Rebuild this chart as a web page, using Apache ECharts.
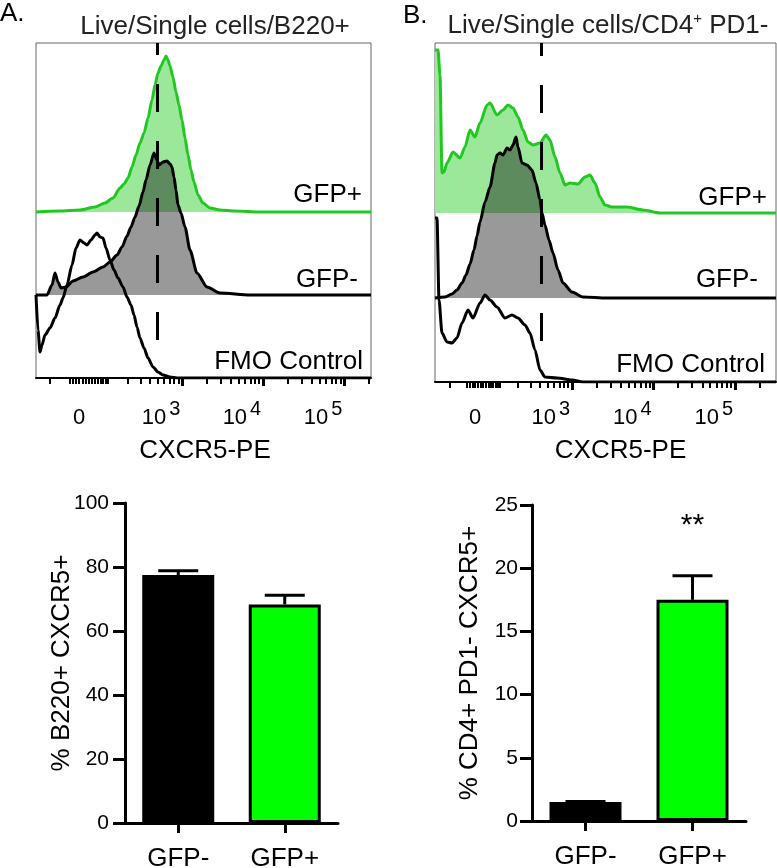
<!DOCTYPE html>
<html><head><meta charset="utf-8">
<script src="https://cdn.jsdelivr.net/npm/echarts@6/dist/echarts.min.js"></script>
<style>html,body{margin:0;padding:0;background:#fff}#c{width:777px;height:868px}</style>
</head><body><div id="c"></div>
<script>
// ================= DATA =================
// Flow histograms: [channel, relative events] per lane (channel = display position on the biexponential CXCR5-PE scale)
const histA_gfpPos = [[0,0],[24,1],[44,2],[59,5],[69,9],[77,14],[84,24],[88,28],[92,34],[96,45],[100,57],[104,69],[108,79],[112,94],[116,112],[119,127],[122,139],[125,146],[128,152],[130,156],[132,152],[134,146],[137,135],[140,120],[143,107],[146,92],[149,74],[152,57],[155,42],[158,30],[162,17],[167,9],[174,4],[184,2],[199,1],[224,0],[335,0]];
const histA_gfpNeg = [[0,0],[11,0],[16,10],[19,22],[22,13],[25,7],[30,8],[37,14],[47,18],[57,23],[67,28],[74,33],[81,40],[86,48],[91,59],[95,68],[99,78],[103,89],[107,103],[110,115],[114,130],[118,142],[121,135],[123,130],[127,133],[131,134],[134,131],[136,128],[138,118],[140,105],[142,90],[145,82],[149,68],[154,45],[161,22],[171,8],[184,2],[214,0],[335,0]];
const histA_fmo = [[0,83],[2,48],[4,26],[6,33],[9,43],[14,50],[19,60],[24,73],[27,80],[31,93],[36,113],[40,130],[44,138],[48,135],[51,133],[55,138],[59,143],[61,145],[64,141],[67,140],[70,130],[74,118],[78,108],[82,100],[87,91],[91,81],[95,73],[98,63],[101,51],[104,40],[108,30],[112,20],[117,11],[122,6],[127,3],[134,1],[141,0],[335,0]];

const histB_gfpPos = [[0,163],[3,163],[5,138],[7,40],[9,41],[12,50],[18,61],[25,55],[30,66],[35,83],[40,76],[45,90],[52,108],[55,110],[62,98],[68,103],[73,108],[78,105],[83,96],[88,83],[93,71],[98,68],[105,70],[111,78],[115,73],[120,56],[125,40],[130,28],[135,30],[143,29],[150,36],[155,38],[160,30],[165,16],[170,8],[177,6],[192,6],[208,3],[225,0],[341,0]];
const histB_gfpNeg = [[0,0],[10,1],[17,4],[22,8],[27,15],[31,23],[35,34],[39,48],[42,62],[45,76],[50,96],[55,111],[60,135],[62,143],[65,145],[68,143],[72,150],[75,148],[78,153],[81,161],[83,151],[87,135],[92,133],[97,128],[101,115],[105,98],[107,85],[110,73],[114,58],[118,45],[123,28],[128,15],[137,6],[148,1],[172,0],[341,0]];
const histB_fmo = [[0,164],[2,164],[4,82],[7,49],[12,40],[17,39],[22,44],[27,59],[33,72],[38,64],[45,79],[50,87],[55,82],[62,75],[70,64],[77,67],[83,64],[90,57],[95,49],[100,32],[105,12],[110,5],[122,4],[137,2],[148,0],[341,0]];

const laneLabels = ['GFP+', 'GFP-', 'FMO Control'];
const gateA = 121;   // gate channel, panel A
const gateB = 106;   // gate channel, panel B

// CXCR5-PE axis (fluorescence values)
const histTickValues = [0, 1000, 10000, 100000];
const histTickLabels = ['0', '10^3', '10^4', '10^5'];
const histMajorTicks = [1000, 10000, 100000];
const histMinorTicks = [-100,-30,-20,-10,0,10,20,30,40,50,60,70,80,90,100,200,300,400,500,600,700,800,900,2000,3000,4000,5000,6000,7000,8000,9000,20000,30000,40000,50000,60000,70000,80000,90000,200000];

// Bar charts
const barCategories = ['GFP-', 'GFP+'];
const barA_values = [77.5, 68.3];
const barA_errors = [1.3, 2.9];
const barB_values = [1.5, 17.5];
const barB_errors = [0.05, 1.9];
const barB_sig = ['', '**'];

// ================= CHART =================
const FONT = "'Liberation Sans', Arial, Helvetica, sans-serif";
const GREEN_LINE = '#22c722', GREEN_FILL = '#9be89b', GRAY_FILL = 'rgba(0,0,0,0.40)';
const BAR_COLORS = ['#000000', '#00ff00'];

function biex(zero, k, c) { return v => zero + k * Math.asinh(v / c); }
const tA = biex(43, 35.2, 107.6);
const tB = biex(40, 35.4, 130);

const chart = echarts.init(document.getElementById('c'));

const grids = [
  {left: 36, top: 43, width: 335, height: 335, show: true, borderColor: '#666', borderWidth: 1, containLabel: false, outerBoundsMode: 'none'},
  {left: 435, top: 43, width: 341, height: 339, show: true, borderColor: '#666', borderWidth: 1, containLabel: false, outerBoundsMode: 'none'},
  {left: 125, top: 503, width: 213, height: 320, containLabel: false, outerBoundsMode: 'none'},
  {left: 532, top: 505, width: 214, height: 316, containLabel: false, outerBoundsMode: 'none'}
];

function labelFormatter(t) {
  const pos = histTickValues.map(t);
  return function (v) {
    let best = 0;
    pos.forEach((p, i) => { if (Math.abs(p - v) < Math.abs(pos[best] - v)) best = i; });
    const s = histTickLabels[best];
    if (s.indexOf('^') >= 0) {
      const [b, e] = s.split('^');
      return '{b|' + b + '}{s|' + e + '}';
    }
    return '{b|' + s + '}';
  };
}

function histAxes(gridIndex, width, t, margin, nameGap, namePad) {
  return [
    {
      type: 'value', gridIndex, min: 0, max: width, position: 'bottom',
      axisLine: {show: true, onZero: false, lineStyle: {color: '#000', width: 2}},
      splitLine: {show: false},
      axisTick: {show: true, customValues: histMinorTicks.map(t), length: 6, lineStyle: {color: '#000', width: 2}},
      axisLabel: {
        show: true, customValues: histTickValues.map(t), margin,
        formatter: labelFormatter(t),
        rich: {
          b: {fontSize: 22, fontFamily: FONT, color: '#000', lineHeight: 36},
          s: {fontSize: 20, fontFamily: FONT, color: '#000', lineHeight: 18, verticalAlign: 'top', padding: [0, 42, 0, 3]}
        }
      },
      name: 'CXCR5-PE', nameLocation: 'middle', nameGap, nameMoveOverlap: false,
      nameTextStyle: {fontSize: 26, fontFamily: FONT, color: '#000', padding: namePad}
    },
    {
      type: 'value', gridIndex, min: 0, max: width, position: 'bottom',
      axisLine: {show: false}, splitLine: {show: false}, axisLabel: {show: false},
      axisTick: {show: true, customValues: histMajorTicks.map(t), length: 8, lineStyle: {color: '#000', width: 3}}
    }
  ];
}

function histSeries(xi, yi, lanes, bases, gate, gateLo, gateHi) {
  const shift = (arr, b) => arr.map(p => [p[0], p[1] + b]);
  const common = {type: 'line', xAxisIndex: xi, yAxisIndex: yi, showSymbol: false, smooth: 0.25, smoothMonotone: 'x', silent: true};
  return [
    Object.assign({}, common, {
      name: laneLabels[0], data: shift(lanes[0], bases[0]), z: 2,
      lineStyle: {color: GREEN_LINE, width: 3},
      areaStyle: {color: GREEN_FILL, opacity: 1, origin: bases[0]}
    }),
    Object.assign({}, common, {
      name: laneLabels[1], data: shift(lanes[1], bases[1]), z: 3,
      lineStyle: {color: '#000', width: 3},
      areaStyle: {color: GRAY_FILL, opacity: 1, origin: bases[1]}
    }),
    Object.assign({}, common, {
      name: laneLabels[2], data: shift(lanes[2], bases[2]), z: 4,
      lineStyle: {color: '#000', width: 3},
      markLine: {
        silent: true, symbol: 'none', animation: false,
        lineStyle: {color: '#000', width: 3, type: [28, 29]},
        label: {show: false},
        data: [[{coord: [gate, gateLo]}, {coord: [gate, gateHi]}]]
      }
    })
  ];
}

function barYAxis(gridIndex, max, interval, nameText, nameGap, margin) {
  return {
    type: 'value', gridIndex, min: 0, max, interval,
    axisLine: {show: true, lineStyle: {color: '#000', width: 3}},
    axisTick: {show: true, length: 12, lineStyle: {color: '#000', width: 3}},
    splitLine: {show: false},
    axisLabel: {fontSize: 21, fontFamily: FONT, color: '#000', margin},
    name: nameText, nameLocation: 'middle', nameGap, nameRotate: 90, nameMoveOverlap: false,
    nameTextStyle: {fontSize: 26, fontFamily: FONT, color: '#000'}
  };
}
function barXAxis(gridIndex) {
  return {
    type: 'category', gridIndex, data: barCategories,
    axisLine: {show: true, lineStyle: {color: '#000', width: 3}},
    axisTick: {show: true, alignWithLabel: true, length: 10, lineStyle: {color: '#000', width: 3}},
    axisLabel: {fontSize: 26, fontFamily: FONT, color: '#000', margin: 23}
  };
}
function barSeries(xi, yi, values) {
  return {
    type: 'bar', xAxisIndex: xi, yAxisIndex: yi, barWidth: 72, z: 3, silent: true,
    itemStyle: {borderColor: '#000', borderWidth: 3},
    data: values.map((v, i) => ({value: v, itemStyle: {color: BAR_COLORS[i]}}))
  };
}
function errSeries(xi, yi, values, errors, sig) {
  return {
    type: 'custom', xAxisIndex: xi, yAxisIndex: yi, z: 2, silent: true,
    data: values.map((v, i) => [i, v, errors[i]]),
    renderItem: function (params, api) {
      const i = api.value(0), v = api.value(1), e = api.value(2);
      const b = api.coord([i, v]), t = api.coord([i, v + e]);
      const hw = 20;
      const children = [
        {type: 'line', shape: {x1: b[0], y1: b[1], x2: t[0], y2: t[1]}, style: {stroke: '#000', lineWidth: 3}},
        {type: 'line', shape: {x1: t[0] - hw, y1: t[1], x2: t[0] + hw, y2: t[1]}, style: {stroke: '#000', lineWidth: 3}}
      ];
      if (sig && sig[params.dataIndex]) {
        children.push({type: 'text', x: t[0], y: t[1] - 50, style: {text: sig[params.dataIndex], align: 'center', verticalAlign: 'middle', fontSize: 30, fontFamily: FONT, fill: '#000'}});
      }
      return {type: 'group', children};
    }
  };
}

function txt(text, x, y, align, size, fill) {
  return {type: 'text', x, y, z: 100, silent: true,
    style: {text, align, verticalAlign: 'middle', fontSize: size, fontFamily: FONT, fill: fill || '#000'}};
}

const option = {
  animation: false,
  backgroundColor: '#fff',
  grid: grids,
  xAxis: [].concat(
    histAxes(0, 335, tA, 21.5, 60, [0, 0, 0, 3]),
    histAxes(1, 341, tB, 17.5, 56, [0, 0, 0, 30]),
    [barXAxis(2), barXAxis(3)]
  ),
  yAxis: [
    {type: 'value', gridIndex: 0, min: 0, max: 335, show: false},
    {type: 'value', gridIndex: 1, min: 0, max: 339, show: false},
    barYAxis(2, 100, 20, '% B220+ CXCR5+', 50, 16),
    barYAxis(3, 25, 5, '% CD4+ PD1- CXCR5+', 49, 14)
  ],
  series: [].concat(
    histSeries(0, 0, [histA_gfpPos, histA_gfpNeg, histA_fmo], [166, 83, 0], gateA, 38, 335),
    histSeries(2, 1, [histB_gfpPos, histB_gfpNeg, histB_fmo], [169, 84, 0], gateB, 41, 339),
    [barSeries(4, 2, barA_values), errSeries(4, 2, barA_values, barA_errors, null),
     barSeries(5, 3, barB_values), errSeries(5, 3, barB_values, barB_errors, barB_sig)]
  ),
  graphic: [
    txt('A.', 0, 14, 'left', 26),
    txt('Live/Single cells/B220+', 215, 27, 'center', 26, '#222'),
    txt('B.', 403, 16, 'left', 26),
    {type: 'text', x: 608, y: 26, z: 100, silent: true,
     style: {text: '{a|Live/Single cells/CD4}{s|+}{a| PD1-}', align: 'center', verticalAlign: 'middle',
       rich: {a: {fontSize: 26, fontFamily: FONT, fill: '#222', lineHeight: 30},
              s: {fontSize: 15, fontFamily: FONT, fill: '#222', lineHeight: 30, verticalAlign: 'top'}}}},
    txt(laneLabels[0], 362, 194.5, 'right', 26),
    txt(laneLabels[1], 358, 279.5, 'right', 26),
    txt(laneLabels[2], 363, 361.5, 'right', 26),
    txt(laneLabels[0], 767, 197.5, 'right', 26),
    txt(laneLabels[1], 758, 280, 'right', 26),
    txt(laneLabels[2], 765, 365, 'right', 26)
  ]
};
chart.setOption(option);
</script>
</body></html>
